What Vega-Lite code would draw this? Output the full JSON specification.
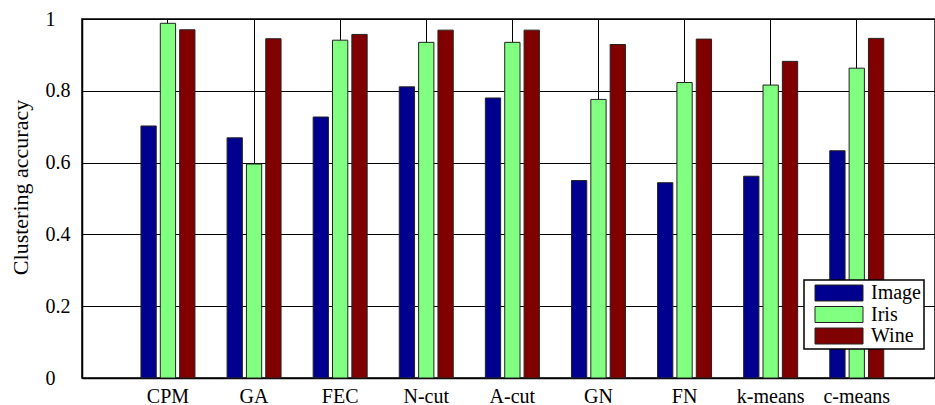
{
  "$schema": "https://vega.github.io/schema/vega-lite/v6.json",
  "width": 853,
  "height": 359,
  "autosize": {"type": "none"},
  "padding": {"left": 82, "top": 19, "right": 0, "bottom": 27},
  "background": "white",
  "config": {
    "view": {"stroke": "black", "strokeWidth": 1.5},
    "font": "Liberation Serif"
  },
  "data": {
    "values": [
      {"method": "CPM", "dataset": "Image", "accuracy": 0.702},
      {"method": "CPM", "dataset": "Iris", "accuracy": 0.988},
      {"method": "CPM", "dataset": "Wine", "accuracy": 0.970},
      {"method": "GA", "dataset": "Image", "accuracy": 0.669},
      {"method": "GA", "dataset": "Iris", "accuracy": 0.596},
      {"method": "GA", "dataset": "Wine", "accuracy": 0.945},
      {"method": "FEC", "dataset": "Image", "accuracy": 0.727},
      {"method": "FEC", "dataset": "Iris", "accuracy": 0.941},
      {"method": "FEC", "dataset": "Wine", "accuracy": 0.957},
      {"method": "N-cut", "dataset": "Image", "accuracy": 0.811},
      {"method": "N-cut", "dataset": "Iris", "accuracy": 0.935},
      {"method": "N-cut", "dataset": "Wine", "accuracy": 0.969},
      {"method": "A-cut", "dataset": "Image", "accuracy": 0.780},
      {"method": "A-cut", "dataset": "Iris", "accuracy": 0.935},
      {"method": "A-cut", "dataset": "Wine", "accuracy": 0.969},
      {"method": "GN", "dataset": "Image", "accuracy": 0.550},
      {"method": "GN", "dataset": "Iris", "accuracy": 0.776},
      {"method": "GN", "dataset": "Wine", "accuracy": 0.929},
      {"method": "FN", "dataset": "Image", "accuracy": 0.544},
      {"method": "FN", "dataset": "Iris", "accuracy": 0.823},
      {"method": "FN", "dataset": "Wine", "accuracy": 0.944},
      {"method": "k-means", "dataset": "Image", "accuracy": 0.562},
      {"method": "k-means", "dataset": "Iris", "accuracy": 0.816},
      {"method": "k-means", "dataset": "Wine", "accuracy": 0.882},
      {"method": "c-means", "dataset": "Image", "accuracy": 0.633},
      {"method": "c-means", "dataset": "Iris", "accuracy": 0.863},
      {"method": "c-means", "dataset": "Wine", "accuracy": 0.946}
    ]
  },
  "mark": {"type": "bar", "stroke": "#222222", "strokeWidth": 1},
  "encoding": {
    "x": {
      "field": "method",
      "type": "nominal",
      "sort": null,
      "scale": {"paddingInner": 0.373, "paddingOuter": 0.64, "align": 0.535},
      "axis": {
        "title": null,
        "labelAngle": 0,
        "labelFont": "Liberation Serif",
        "labelFontSize": 20,
        "labelColor": "black",
        "labelPadding": 8,
        "labelBaseline": "top",
        "ticks": false,
        "domainColor": "black",
        "domainWidth": 1.5,
        "grid": true,
        "bandPosition": 0.5,
        "gridColor": "black",
        "gridWidth": 1,
        "gridOpacity": 1
      }
    },
    "xOffset": {
      "field": "dataset",
      "type": "nominal",
      "scale": {"paddingInner": 0.21, "paddingOuter": 0}
    },
    "y": {
      "field": "accuracy",
      "type": "quantitative",
      "scale": {"domain": [0, 1], "nice": false},
      "axis": {
        "title": "Clustering accuracy",
        "titleFont": "Liberation Serif",
        "titleFontSize": 22,
        "titleFontWeight": "normal",
        "titleColor": "black",
        "titleX": -62,
        "titleY": 168,
        "titleAlign": "center",
        "titleBaseline": "middle",
        "titleAngle": -90,
        "values": [0, 0.2, 0.4, 0.6, 0.8, 1],
        "format": "~g",
        "labelFont": "Liberation Serif",
        "labelFontSize": 20,
        "labelColor": "black",
        "labelAlign": "left",
        "labelBaseline": "middle",
        "labelPadding": 37,
        "ticks": false,
        "domainColor": "black",
        "domainWidth": 1.5,
        "grid": true,
        "gridColor": "black",
        "gridWidth": 1,
        "gridOpacity": 1
      }
    },
    "color": {
      "field": "dataset",
      "type": "nominal",
      "scale": {"domain": ["Image", "Iris", "Wine"], "range": ["#00008f", "#80ff80", "#800000"]},
      "legend": {
        "title": null,
        "orient": "none",
        "legendX": 722,
        "legendY": 261,
        "direction": "vertical",
        "fillColor": "white",
        "strokeColor": "black",
        "padding": 3,
        "symbolType": "M-1,-1H5V1H-1Z",
        "symbolSize": 256,
        "symbolOffset": 6,
        "symbolStrokeColor": "#222222",
        "symbolStrokeWidth": 1,
        "symbolOpacity": 1,
        "labelFont": "Liberation Serif",
        "labelFontSize": 20,
        "labelColor": "black",
        "labelOffset": 38,
        "labelLimit": 300,
        "labelExpr": "datum.label + '\u00a0\u00a0\u00a0\u00a0\u00a0\u00a0\u00a0\u00a0\u00a0\u00a0'",
        "rowPadding": 1.5,
        "encode": {"legend": {"update": {"strokeWidth": {"value": 1.5}}}}
      }
    }
  }
}
